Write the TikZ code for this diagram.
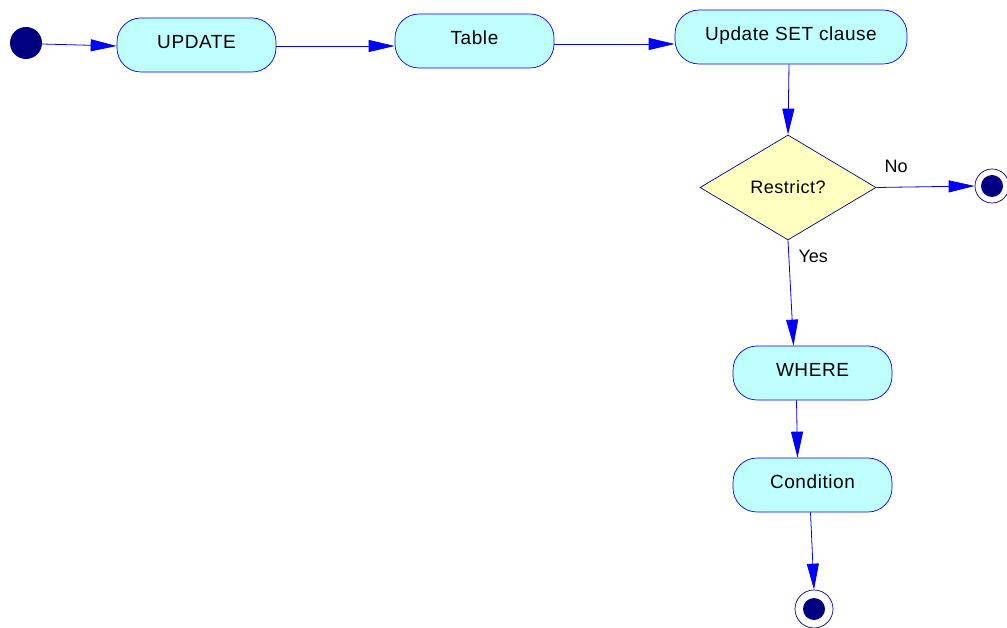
\documentclass[tikz,border=0pt]{standalone}
\usepackage{fontspec}
\setmainfont{Liberation Sans}
\usetikzlibrary{arrows.meta,shapes.geometric}
\definecolor{lineblue}{RGB}{0,0,255}
\definecolor{nodefill}{RGB}{192,255,255}
\definecolor{decfill}{RGB}{255,255,192}
\definecolor{navy}{RGB}{0,0,128}
\newfontfamily\spacedfont[LetterSpace=3]{Liberation Sans}
\begin{document}
\begin{tikzpicture}[x=1pt,y=-1pt,
  act/.style={draw=lineblue,fill=nodefill,rounded corners=24pt,minimum width=159pt,minimum height=54pt,inner sep=0pt,text height=14pt,text depth=6.5pt,font=\spacedfont\fontsize{19}{22}\selectfont,line width=0.7pt},
  dec/.style={draw=navy,fill=decfill,diamond,minimum width=176pt,minimum height=105pt,inner sep=0pt,font=\spacedfont\fontsize{18}{21}\selectfont,line width=0.7pt},
  startnode/.style={circle,fill=navy,minimum size=32pt,inner sep=0pt},
  endnode/.style={circle,draw=navy,fill=white,minimum size=34pt,inner sep=0pt,line width=0.7pt,
    path picture={\fill[navy] (path picture bounding box.center) circle (11pt);}},
  conn/.style={draw=lineblue,line width=0.8pt,-{Triangle[length=26pt,width=12pt]}},
  lbl/.style={font=\fontsize{18}{21}\selectfont}
]
\useasboundingbox (0,0) rectangle (1007,628);
\node[startnode] (s) at (26,43) {};
\node[act] (upd) at (196.5,45) {UPDATE};
\node[act] (tab) at (474.5,41) {Table};
\node[act,minimum width=232pt] (set) at (791,37) {Update SET clause};
\node[dec] (dec) at (788,187.5) {Restrict?};
\node[endnode] (e1) at (992,186) {};
\node[act] (wh) at (812.5,373) {WHERE};
\node[act] (cond) at (812.5,485) {Condition};
\node[endnode,minimum size=38pt] (e2) at (814,609) {};

\draw[conn] ([yshift=-1pt]s.east) -- ([yshift=-1pt]upd.west);
\draw[conn] ([yshift=-1pt]upd.east) -- ([yshift=-5pt]tab.west);
\draw[conn] ([yshift=-3pt]tab.east) -- ([yshift=-7pt]set.west);
\draw[conn] ([xshift=-2pt]set.south) -- (dec.north);
\draw[conn] (dec.east) -- (e1.west) node[lbl,pos=0.2,above=11pt] {No};
\draw[conn] (dec.south) -- ([xshift=-19pt]wh.north) node[lbl,pos=0.15,right=6pt] {Yes};
\draw[conn] ([xshift=-16pt]wh.south) -- ([xshift=-15pt]cond.north);
\draw[conn] ([xshift=-2pt]cond.south) -- (e2.north);
\end{tikzpicture}
\end{document}
